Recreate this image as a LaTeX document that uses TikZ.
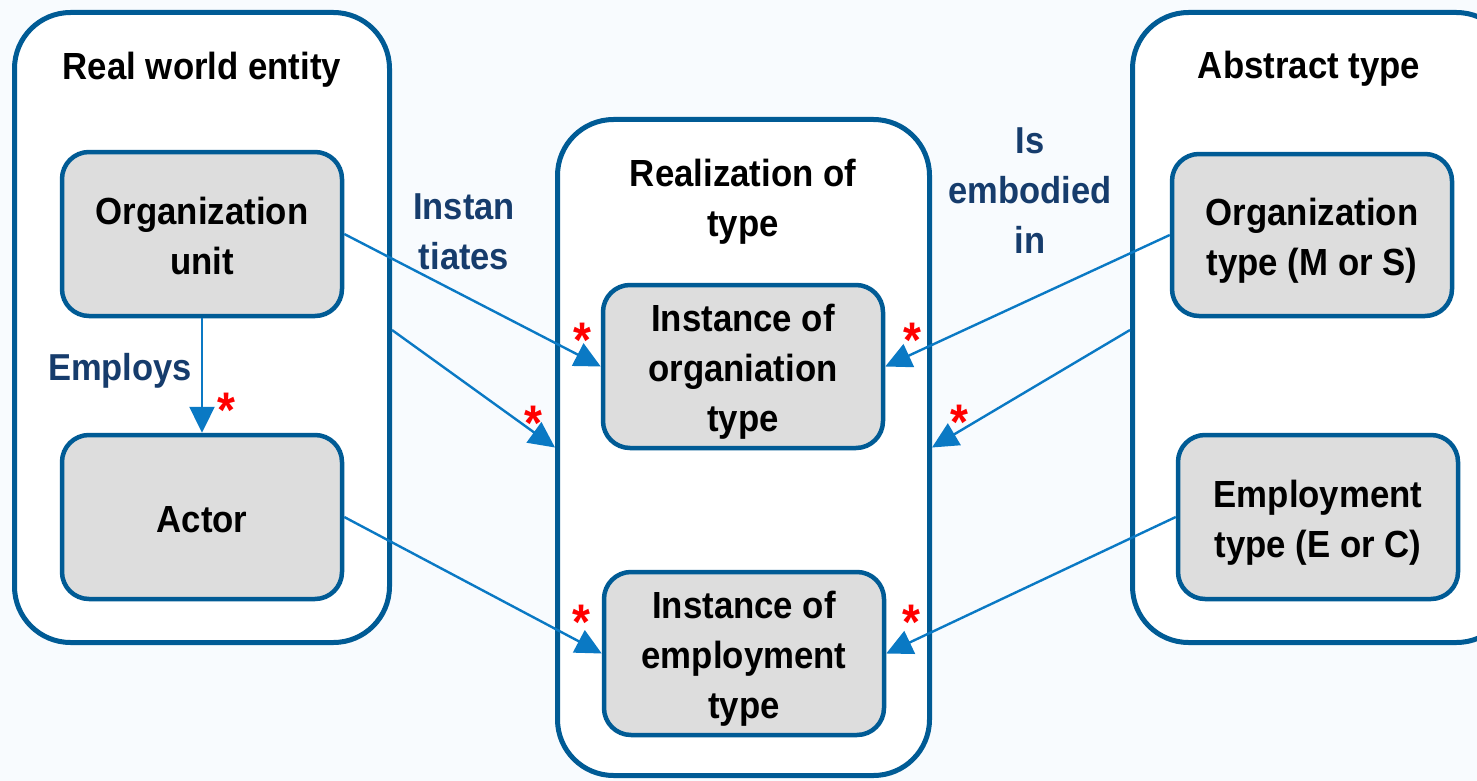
\documentclass[tikz,border=0pt]{standalone}
\usepackage{fontspec}
\newfontfamily\diagfont{Liberation Sans}[FakeStretch=0.92]
\usetikzlibrary{arrows.meta}
\definecolor{pagebg}{HTML}{F8FBFE}
\definecolor{frameblue}{HTML}{005B95}
\definecolor{linkblue}{HTML}{0A79C4}
\definecolor{labelnavy}{HTML}{163C6C}
\definecolor{boxgray}{HTML}{DDDDDD}
\definecolor{starred}{HTML}{FF0000}
\begin{document}
\begin{tikzpicture}[x=1pt,y=-1pt,
  container/.style={draw=frameblue, line width=5pt, fill=white, rounded corners=56pt, inner sep=0pt},
  % fixed text height/depth keep every text block evenly placed in its box
  lines/.style={text height={30pt+(#1-1)*50pt}, text depth=0pt},
  entity/.style={draw=frameblue, line width=4.5pt, fill=boxgray, rounded corners=27pt,
    minimum width=280pt, minimum height=164pt, inner sep=0pt, align=center,
    lines=2,
    font=\diagfont\bfseries\fontsize{37.8}{50}\selectfont},
  heading/.style={align=center, inner sep=0pt, lines=1,
    font=\diagfont\bfseries\fontsize{37.8}{50}\selectfont},
  relname/.style={align=center, inner sep=0pt, text=labelnavy, font=\diagfont\bfseries\fontsize{37.5}{50}\selectfont},
  link/.style={draw=linkblue, line width=2.4pt, -{Triangle[length=26pt, width=25pt]}},
  mult/.style={text=starred, inner sep=0pt, font=\diagfont\bfseries\fontsize{50}{50}\selectfont}]
  % page and visible area
  \fill[pagebg] (0,0) rectangle (1477,781);
  \useasboundingbox (0,0) rectangle (1477,781);
  \clip (0,0) rectangle (1477,781);

  % the three groups
  \node[container, minimum width=375pt, minimum height=630pt] (real) at (202,327.5) {};
  \node[container, minimum width=372pt, minimum height=656pt] (realz) at (743.5,447.5) {};
  \node[container, minimum width=380pt, minimum height=630pt] (abstr) at (1322.5,327.5) {};

  \node[heading] (realT) at (202,64.5) {Real world entity};
  \node[heading, lines=2] (realzT) at (743,196) {Realization of\\type};
  \node[heading] (abstrT) at (1309,63.5) {Abstract type};

  % entities
  \node[entity] (ou) at (202,234) {Organization\\unit};
  \node[entity, lines=1] (ac) at (202,517) {Actor};
  \node[entity, lines=3, minimum height=163pt] (io) at (743,366.5) {Instance of\\organiation\\type};
  \node[entity, lines=3, minimum height=163pt] (ie) at (744,653.5) {Instance of\\employment\\type};
  \node[entity, minimum height=162pt] (ot) at (1312,235) {Organization\\type (M or S)};
  \node[entity] (et) at (1318,517) {Employment\\type (E or C)};

  % relation names
  \node[relname] (employs) at (120,371) {Employs};
  \node[relname] (inst) at (464,232) {Instan\\tiates};
  \node[relname] (embod) at (1030,191) {Is\\embodied\\in};

  % connectors
  \coordinate (midrow) at (0,330);
  \coordinate (midrowend) at (0,447.5);
  \draw[link] (ou.south) -- (ac.north);
  \draw[link] (ou.east) -- (io.west);
  \draw[link] (real.east |- midrow) -- (realz.west |- midrowend);
  \draw[link] (ac.east) -- (ie.west);
  \draw[link] (ot.west) -- (io.east);
  \draw[link] (abstr.west |- midrow) -- (realz.east |- midrowend);
  \draw[link] (et.west) -- (ie.east);

  % multiplicities
  \node[mult] (m1) at (226,410) {*};
  \node[mult] (m2) at (582,340) {*};
  \node[mult] (m3) at (533,423) {*};
  \node[mult] (m4) at (581,622) {*};
  \node[mult] (m5) at (912,340) {*};
  \node[mult] (m6) at (959,422) {*};
  \node[mult] (m7) at (911,622) {*};
\end{tikzpicture}
\end{document}
